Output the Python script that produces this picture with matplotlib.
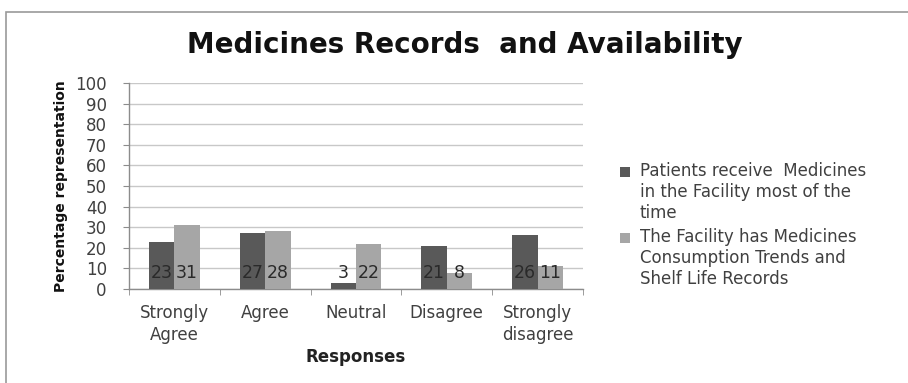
import matplotlib
matplotlib.use("Agg")
import matplotlib.pyplot as plt
import numpy as np
from matplotlib.patches import Rectangle

categories = ["Strongly\nAgree", "Agree", "Neutral", "Disagree", "Strongly\ndisagree"]
receive_medicines = [23, 27, 3, 21, 26]
consumption_records = [31, 28, 22, 8, 11]
series_names = [
    "Patients receive  Medicines\nin the Facility most of the\ntime",
    "The Facility has Medicines\nConsumption Trends and\nShelf Life Records",
]
title = "Medicines Records  and Availability"
y_ticks = list(range(0, 101, 10))

dark = "#595959"
light = "#a6a6a6"
grid_c = "#c8c8c8"
axis_c = "#8c8c8c"
text_c = "#404040"

W, H = 908, 383
fig = plt.figure(figsize=(W / 100, H / 100), dpi=100)
fig.patch.set_facecolor("white")

# outer chart frame
fig.patches.append(Rectangle((6 / W, -0.05), 1.0, 1 - 12 / H + 0.05,
                             transform=fig.transFigure, fill=False,
                             edgecolor="#9a9a9a", linewidth=1.2))

ax = fig.add_axes([129 / W, (H - 289) / H, 454 / W, 206 / H])

x = np.arange(len(categories))
w = 0.28
b1 = ax.bar(x - w / 2, receive_medicines, w, color=dark, zorder=3)
b2 = ax.bar(x + w / 2, consumption_records, w, color=light, zorder=3)

for bars, vals in ((b1, receive_medicines), (b2, consumption_records)):
    for rect, v in zip(bars, vals):
        ax.text(rect.get_x() + rect.get_width() / 2, 8, str(v),
                ha="center", va="center", fontsize=12.5, color="#2a2a2a",
                family="DejaVu Sans", zorder=4)

ax.set_xlim(-0.5, len(categories) - 0.5)
ax.set_ylim(0, 100)
ax.set_yticks(y_ticks)
ax.yaxis.grid(True, color=grid_c, linewidth=1.0, zorder=0)
ax.set_axisbelow(True)

ax.set_xticks(x)
ax.set_xticklabels(categories, fontsize=12, color=text_c, linespacing=1.25)
ax.set_xticks(np.arange(-0.5, len(categories), 1.0), minor=True)
ax.tick_params(axis="x", which="major", length=0, pad=11)
ax.tick_params(axis="x", which="minor", length=4, color=axis_c, direction="out")
ax.tick_params(axis="y", length=4, color=axis_c, labelsize=12,
               labelcolor=text_c, pad=12)

for s in ("top", "right"):
    ax.spines[s].set_visible(False)
for s in ("left", "bottom"):
    ax.spines[s].set_color(axis_c)
    ax.spines[s].set_linewidth(1.0)

ax.set_ylabel("Percentage representation", fontsize=10, fontweight="bold",
              color="#111111", labelpad=5)
ax.set_xlabel("Responses", fontsize=12, fontweight="bold", color="#222222",
              labelpad=3)

fig.text(465 / W, 1 - 45 / H, title, ha="center", va="center",
         fontsize=20, fontweight="bold", family="DejaVu Sans", color="#111111")

# legend: square marker beside the first line of each entry
legend_items = [(dark, series_names[0], 172), (light, series_names[1], 238)]
for color, label, y_px in legend_items:
    fig.patches.append(Rectangle((620 / W, 1 - (y_px + 5) / H), 10 / W, 10 / H,
                                 transform=fig.transFigure, facecolor=color,
                                 edgecolor="none"))
    fig.text(640 / W, 1 - (y_px - 10) / H, label, ha="left", va="top",
             fontsize=12, color=text_c, linespacing=1.2)

fig.savefig("out.png", dpi=100, facecolor="white")
